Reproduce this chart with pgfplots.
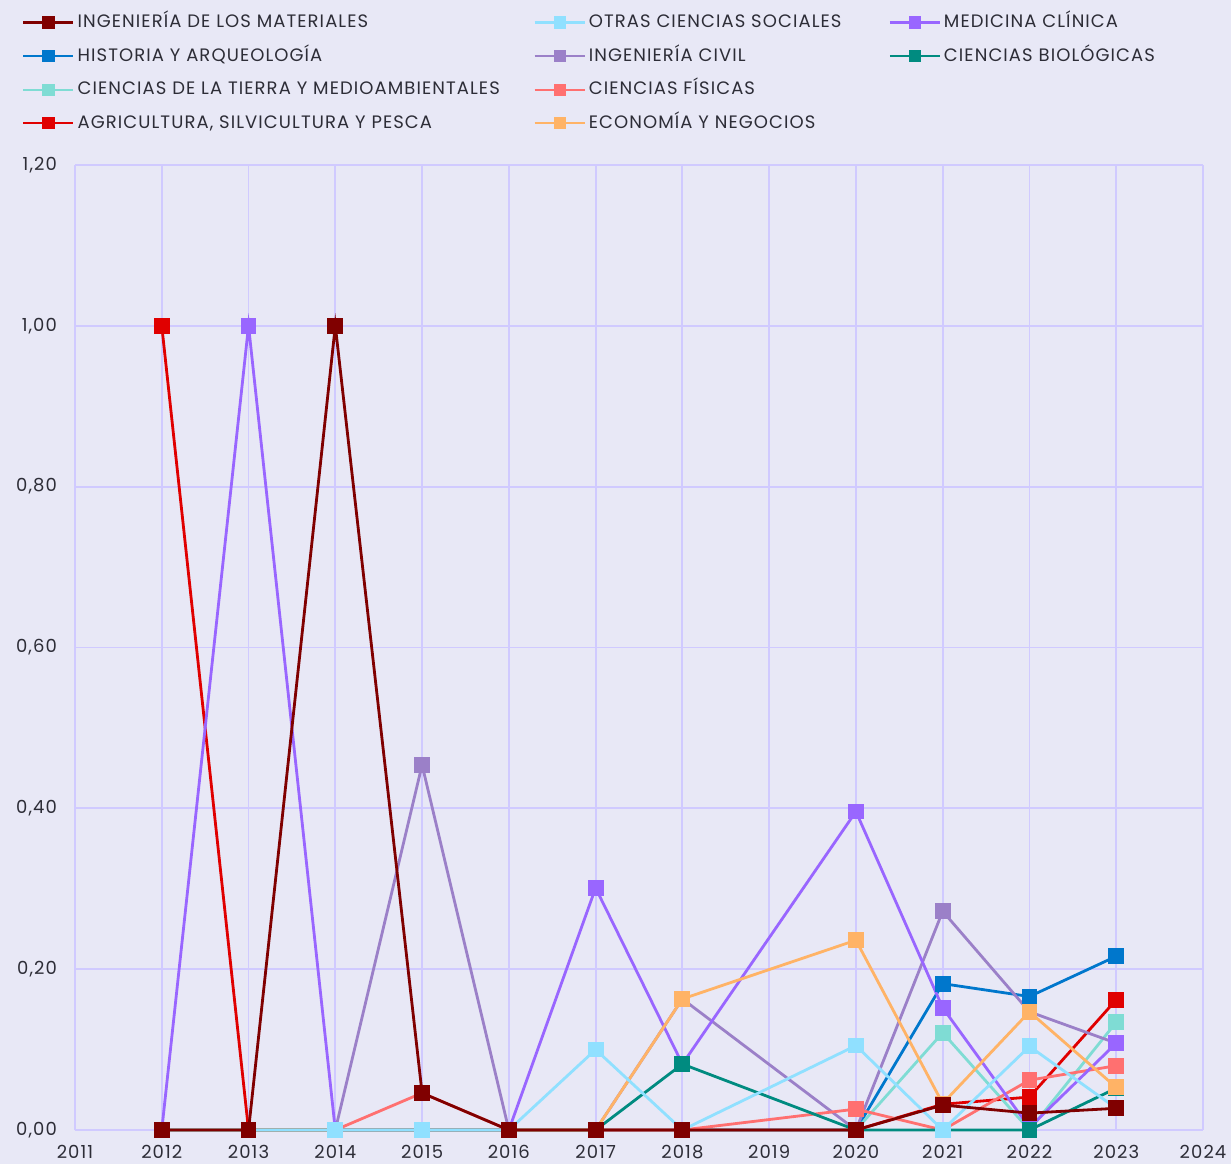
\documentclass[border=0pt]{standalone}
\usepackage{pgfplots}
\pgfplotsset{compat=1.18}
\usepackage{fontspec}
\setmainfont{Poppins}[LetterSpace=6]
\definecolor{bg}{RGB}{232,232,246}
\definecolor{gridc}{RGB}{208,202,255}
\definecolor{txt}{RGB}{45,45,55}
\definecolor{cMat}{RGB}{128,0,0}
\definecolor{cHist}{RGB}{0,119,204}
\definecolor{cTierra}{RGB}{127,220,212}
\definecolor{cAgri}{RGB}{224,0,0}
\definecolor{cOtras}{RGB}{144,224,255}
\definecolor{cCivil}{RGB}{155,128,200}
\definecolor{cFis}{RGB}{255,112,112}
\definecolor{cEco}{RGB}{255,179,102}
\definecolor{cMed}{RGB}{153,102,255}
\definecolor{cBio}{RGB}{0,139,128}
\pgfplotsset{
  ser/.style={color=#1, line width=1.4pt, mark=square*, mark size=3.25pt, mark options={solid, fill=#1}},
}
\begin{document}
\begin{tikzpicture}[x=1pt,y=1pt]
\fill[bg] (0,0) rectangle (615.5,582);
\begin{axis}[
  at={(37.5pt,17pt)}, anchor=south west,
  scale only axis, width=564pt, height=482.5pt,
  xmin=2011, xmax=2024, ymin=0, ymax=1.2,
  xtick={2011,2012,2013,2014,2015,2016,2017,2018,2019,2020,2021,2022,2023,2024},
  ytick={0,0.2,0.4,0.6,0.8,1.0,1.2},
  major tick length=0pt,
  grid=major,
  major grid style={draw=gridc, line width=0.9pt},
  axis x line*=bottom, axis y line*=left,
  axis line style={draw=gridc, line width=1.3pt, -},
  tick label style={font=\fontsize{9}{11}\selectfont, text=txt},
  /pgf/number format/assume math mode=true,
  xticklabel style={/pgf/number format/1000 sep={}, yshift=-4pt},
  yticklabel style={/pgf/number format/.cd, fixed, fixed zerofill, precision=2, use comma, /tikz/.cd, xshift=-5.5pt},
  clip=false,
  legend columns=3,
  legend image code/.code={
    \draw[#1, line width=1.1pt, mark size=2.5pt, mark repeat=2, mark phase=2] plot coordinates {(0pt,0pt) (12.5pt,0pt) (25pt,0pt)};},
  legend style={
    at={(-0.047,1.1575)}, anchor=north west,
    draw=none, fill=none, inner sep=0pt,
    font=\fontsize{9}{11}\selectfont, text=txt,
    nodes={inner sep=0pt, text height=7pt, text depth=2pt},
    row sep=7.8pt,
    /tikz/every odd column/.append style={column sep=1.5pt},
    /tikz/every even column/.append style={column sep=0pt},
  },
  legend cell align=left,
]
% legend (row-major)
\addlegendimage{ser=cMat}\addlegendentry{\makebox[228pt][l]{INGENIERÍA DE LOS MATERIALES}}
\addlegendimage{ser=cOtras}\addlegendentry{\makebox[150pt][l]{OTRAS CIENCIAS SOCIALES}}
\addlegendimage{ser=cMed}\addlegendentry{MEDICINA CLÍNICA}
\addlegendimage{ser=cHist}\addlegendentry{\makebox[228pt][l]{HISTORIA Y ARQUEOLOGÍA}}
\addlegendimage{ser=cCivil}\addlegendentry{\makebox[150pt][l]{INGENIERÍA CIVIL}}
\addlegendimage{ser=cBio}\addlegendentry{CIENCIAS BIOLÓGICAS}
\addlegendimage{ser=cTierra}\addlegendentry{\makebox[228pt][l]{CIENCIAS DE LA TIERRA Y MEDIOAMBIENTALES}}
\addlegendimage{ser=cFis}\addlegendentry{\makebox[150pt][l]{CIENCIAS FÍSICAS}}
\addlegendimage{empty legend}\addlegendentry{}
\addlegendimage{ser=cAgri}\addlegendentry{\makebox[228pt][l]{AGRICULTURA, SILVICULTURA Y PESCA}}
\addlegendimage{ser=cEco}\addlegendentry{\makebox[150pt][l]{ECONOMÍA Y NEGOCIOS}}
% data, drawn bottom to top
% Historia y arqueologia
\addplot[ser=cHist, forget plot] coordinates {(2012,0) (2013,0) (2014,0) (2015,0) (2016,0) (2017,0) (2018,0) (2020,0) (2021,0.182) (2022,0.166) (2023,0.216)};
% Agricultura
\addplot[ser=cAgri, forget plot] coordinates {(2012,1) (2013,0) (2014,0) (2015,0) (2016,0) (2017,0) (2018,0) (2020,0) (2021,0.032) (2022,0.041) (2023,0.162)};
% Ciencias de la tierra
\addplot[ser=cTierra, forget plot] coordinates {(2012,0) (2013,0) (2014,0) (2015,0) (2016,0) (2017,0) (2018,0) (2020,0) (2021,0.121) (2022,0) (2023,0.134)};
% Ingenieria civil
\addplot[ser=cCivil, forget plot] coordinates {(2012,0) (2013,0) (2014,0) (2015,0.454) (2016,0) (2017,0) (2018,0.163) (2020,0) (2021,0.272) (2022,0.147) (2023,0.108)};
% Ciencias fisicas
\addplot[ser=cFis, forget plot] coordinates {(2012,0) (2013,0) (2014,0) (2015,0.046) (2016,0) (2017,0) (2018,0) (2020,0.026) (2021,0) (2022,0.062) (2023,0.080)};
% Medicina clinica
\addplot[ser=cMed, forget plot] coordinates {(2012,0) (2013,1) (2014,0) (2015,0) (2016,0) (2017,0.301) (2018,0.082) (2020,0.396) (2021,0.152) (2022,0.003) (2023,0.108)};
% Ciencias biologicas
\addplot[ser=cBio, forget plot] coordinates {(2012,0) (2013,0) (2014,0) (2015,0) (2016,0) (2017,0) (2018,0.082) (2020,0) (2021,0) (2022,0) (2023,0.052)};
% Economia y negocios
\addplot[ser=cEco, forget plot] coordinates {(2012,0) (2013,0) (2014,0) (2015,0) (2016,0) (2017,0) (2018,0.163) (2020,0.236) (2021,0.033) (2022,0.147) (2023,0.053)};
% Otras ciencias sociales
\addplot[ser=cOtras, forget plot] coordinates {(2012,0) (2013,0) (2014,0) (2015,0) (2016,0) (2017,0.100) (2018,0) (2020,0.105) (2021,0) (2022,0.104) (2023,0.027)};
% Ingenieria de los materiales
\addplot[ser=cMat, forget plot] coordinates {(2012,0) (2013,0) (2014,1) (2015,0.046) (2016,0) (2017,0) (2018,0) (2020,0) (2021,0.031) (2022,0.021) (2023,0.027)};
\end{axis}
\pgfresetboundingbox
\useasboundingbox (0,0) rectangle (615.5,582);
\end{tikzpicture}
\end{document}
